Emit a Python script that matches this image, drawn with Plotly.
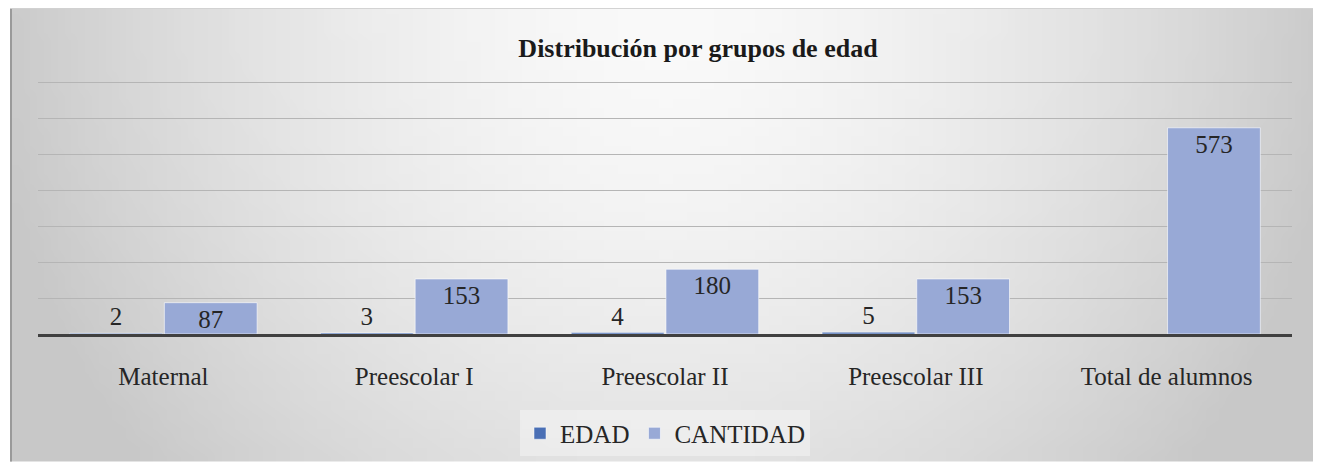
import zlib, struct, base64, math
import plotly.graph_objects as go

# ---- data ----
categories = ["Maternal", "Preescolar I", "Preescolar II", "Preescolar III", "Total de alumnos"]
edad = [2, 3, 4, 5, None]
cantidad = [87, 153, 180, 153, 573]
series_names = ["EDAD", "CANTIDAD"]
title_text = "Distribución por grupos de edad"

# ---- layout geometry (page pixels; the page body adds an 8px offset) ----
BODY = 8
W, H = 1321, 469
FIG_W, FIG_H = W - BODY, H - BODY
PLOT_L, PLOT_R, PLOT_T, PLOT_B = 38, 1292, 81, 339   # page coordinates
ML = PLOT_L - BODY
MT = PLOT_T - BODY
MR = FIG_W - (PLOT_R - BODY)
MB = FIG_H - (PLOT_B - BODY)
PW, PH = PLOT_R - PLOT_L, PLOT_B - PLOT_T
FRAME_X0, FRAME_Y0 = 10, 7


def px_to_paper_x(px):
    return (px - PLOT_L) / PW


def py_to_paper_y(py):
    return (PLOT_B - py) / PH


def make_png(w, h, fn):
    raw = bytearray()
    for j in range(h):
        raw.append(0)
        for i in range(w):
            raw.append(fn(i / (w - 1), j / (h - 1)))

    def chunk(t, d):
        c = struct.pack('>I', len(d)) + t + d
        return c + struct.pack('>I', zlib.crc32(t + d) & 0xffffffff)

    png = (b'\x89PNG\r\n\x1a\n'
           + chunk(b'IHDR', struct.pack('>IIBBBBB', w, h, 8, 0, 0, 0, 0))
           + chunk(b'IDAT', zlib.compress(bytes(raw)))
           + chunk(b'IEND', b''))
    return 'data:image/png;base64,' + base64.b64encode(png).decode()


def grad(u, v):
    r = math.sqrt(((u - 0.5) * 2) ** 2 + (v * 0.65) ** 2)
    val = 250 - 46 * r ** 1.6
    return int(max(200, min(250, val)))


bg_uri = make_png(96, 48, grad)

LABEL_FONT = dict(family="Liberation Serif", size=25, color="#262626")

fig = go.Figure()
fig.add_trace(go.Bar(
    x=categories, y=edad, name=series_names[0],
    marker=dict(color="#4A6FB5", line=dict(color="rgba(255,255,255,0.5)", width=1)),
    text=[("" if v is None else str(v)) for v in edad],
    textposition="outside", textfont=LABEL_FONT,
    cliponaxis=False,
))
fig.add_trace(go.Bar(
    x=categories, y=cantidad, name=series_names[1],
    marker=dict(color="#98A9D6", line=dict(color="rgba(255,255,255,0.6)", width=1)),
    text=[str(v) for v in cantidad],
    textposition="inside", insidetextanchor="end", constraintext="none",
    textangle=0, textfont=LABEL_FONT,
))

fig.update_layout(
    width=FIG_W, height=FIG_H,
    margin=dict(l=ML, r=MR, t=MT, b=MB, pad=0),
    paper_bgcolor="white",
    plot_bgcolor="rgba(0,0,0,0)",
    barmode="group", bargap=0.245, bargroupgap=0.02,
    font=dict(family="Liberation Serif", size=25, color="#262626"),
    title=dict(text="<b>" + title_text + "</b>", x=(698 - BODY) / FIG_W, xanchor="center",
               xref="container", yref="container", y=1 - (48 - BODY) / FIG_H, yanchor="middle",
               font=dict(family="Liberation Serif", size=26, color="#1a1a1a")),
    showlegend=True,
    legend=dict(orientation="h", x=0.5, xanchor="center",
                y=py_to_paper_y(417), yanchor="top",
                bgcolor="rgba(255,255,255,0.35)",
                font=dict(family="Liberation Serif", size=25, color="#262626"),
                itemwidth=30, traceorder="normal"),
    xaxis=dict(showgrid=False, showline=True, linecolor="#404040", linewidth=3,
               ticks="outside", ticklen=18, tickcolor="rgba(0,0,0,0)",
               tickfont=LABEL_FONT),
    yaxis=dict(range=[0, 703], tickvals=[100, 200, 300, 400, 500, 600, 700],
               showticklabels=False, zeroline=False,
               showgrid=True, gridcolor="#b5b5b5", gridwidth=1, showline=False),
    images=[dict(source=bg_uri, xref="paper", yref="paper",
                 x=px_to_paper_x(FRAME_X0), y=py_to_paper_y(FRAME_Y0),
                 sizex=(W - FRAME_X0) / PW, sizey=(H - FRAME_Y0) / PH,
                 xanchor="left", yanchor="top", sizing="stretch", layer="below")],
    shapes=[
        dict(type="line", xref="paper", yref="paper",
             x0=px_to_paper_x(FRAME_X0 + 1), x1=px_to_paper_x(FRAME_X0 + 1),
             y0=py_to_paper_y(FRAME_Y0), y1=py_to_paper_y(H),
             line=dict(color="#9a9a9a", width=2), layer="below"),
        dict(type="line", xref="paper", yref="paper",
             x0=px_to_paper_x(FRAME_X0), x1=px_to_paper_x(W),
             y0=py_to_paper_y(FRAME_Y0), y1=py_to_paper_y(FRAME_Y0),
             line=dict(color="#d0d0d0", width=1), layer="below"),
    ],
)

fig.write_html("out.html")
